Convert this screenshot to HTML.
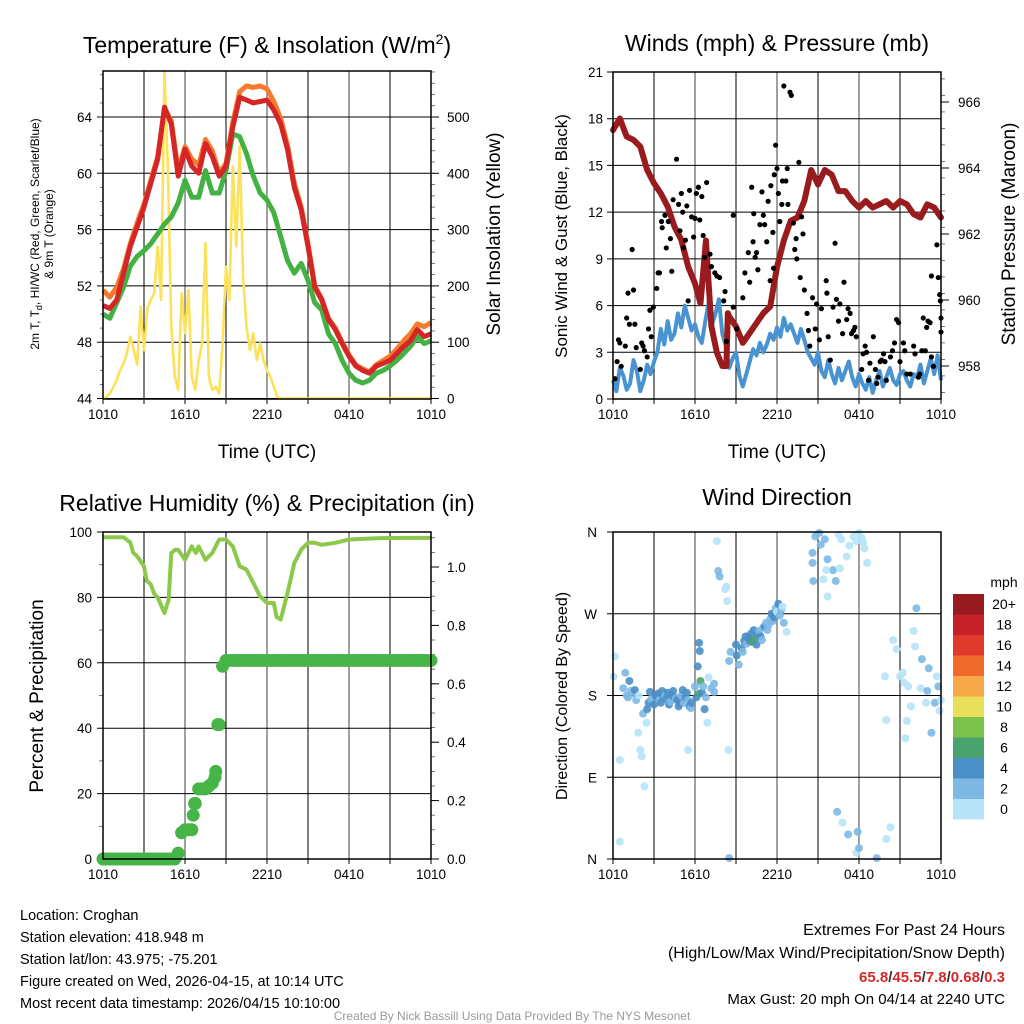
<!DOCTYPE html>
<html><head><meta charset="utf-8"><style>
html,body{margin:0;padding:0;background:#fff}
svg{display:block;font-family:"Liberation Sans",sans-serif}
</style></head><body>
<svg id="root" width="1024" height="1024" viewBox="0 0 1024 1024" xmlns="http://www.w3.org/2000/svg">
<g><text x="267" y="53" font-size="23" text-anchor="middle">Temperature (F) &amp; Insolation (W/m<tspan dy="-9" font-size="14">2</tspan><tspan dy="9">)</tspan></text></g>
<text x="777" y="51" font-size="23" text-anchor="middle">Winds (mph) &amp; Pressure (mb)</text>
<text x="267" y="511" font-size="23" text-anchor="middle">Relative Humidity (%) &amp; Precipitation (in)</text>
<text x="777" y="505" font-size="23" text-anchor="middle">Wind Direction</text>

<g font-size="12" text-anchor="middle">
<text transform="translate(39,234) rotate(-90)">2m T, T<tspan dy="3" font-size="9">d</tspan><tspan dy="-3">, HI/WC (Red, Green, Scarlet/Blue)</tspan></text>
<text transform="translate(53,234) rotate(-90)">&amp; 9m T (Orange)</text></g>
<text transform="translate(500,234) rotate(-90)" font-size="19" text-anchor="middle">Solar Insolation (Yellow)</text>
<text x="267" y="458" font-size="19" text-anchor="middle">Time (UTC)</text>
<text transform="translate(567,236) rotate(-90)" font-size="17" text-anchor="middle">Sonic Wind &amp; Gust (Blue, Black)</text>
<text transform="translate(1015,234) rotate(-90)" font-size="19" text-anchor="middle">Station Pressure (Maroon)</text>
<text x="777" y="458" font-size="19" text-anchor="middle">Time (UTC)</text>
<text transform="translate(43,696) rotate(-90)" font-size="19" text-anchor="middle">Percent &amp; Precipitation</text>
<text transform="translate(567,696) rotate(-90)" font-size="16" text-anchor="middle">Direction (Colored By Speed)</text>

<g font-size="14.5">
<text x="20" y="920">Location: Croghan</text>
<text x="20" y="942">Station elevation: 418.948 m</text>
<text x="20" y="964">Station lat/lon: 43.975; -75.201</text>
<text x="20" y="986">Figure created on Wed, 2026-04-15, at 10:14 UTC</text>
<text x="20" y="1008">Most recent data timestamp: 2026/04/15 10:10:00</text>
</g>
<g text-anchor="end">
<text x="1005" y="935" font-size="16">Extremes For Past 24 Hours</text>
<text x="1005" y="958" font-size="16">(High/Low/Max Wind/Precipitation/Snow Depth)</text>
<text x="1005" y="982" font-size="15" font-weight="bold" fill="#d42a2a">65.8<tspan fill="#333">/</tspan>45.5<tspan fill="#333">/</tspan>7.8<tspan fill="#333">/</tspan>0.68<tspan fill="#333">/</tspan>0.3</text>
<text x="1005" y="1004" font-size="15">Max Gust: 20 mph On 04/14 at 2240 UTC</text>
</g>
<text x="512" y="1020" font-size="12" fill="#999" text-anchor="middle">Created By Nick Bassill Using Data Provided By The NYS Mesonet</text>
<g id="plots"></g>
</svg>
<script>
// ---- data ----
const timeLabels=["1010","1610","2210","0410","1010"];
const tempTicks=[44,48,52,56,60,64];
const solarTicks=[0,100,200,300,400,500];
const windTicks=[0,3,6,9,12,15,18,21];
const pressTicks=[958,960,962,964,966];
const rhTicks=[0,20,40,60,80,100];
const precipTicks=["0.0","0.2","0.4","0.6","0.8","1.0"];
const dirLabels=["N","E","S","W","N"];
const speedBins=["0","2","4","6","8","10","12","14","16","18","20+"];
const speedColors=["#b6e3f7","#7db9e4","#4a8fc6","#4aa36e","#7bc24a","#e8e05a","#f6a848","#f06a2c","#e03a2c","#c62028","#961a1e"];
// temps every 0.5h
const tempRed=[50.6,50.4,51,52.9,54.8,56.2,57.6,59.3,61,64.7,63.5,59.8,61.7,60.5,60,62.1,61.2,59.8,60.5,63.3,65.4,65.2,65,65.1,65.2,64.5,63.5,61.7,59,57.4,54.8,51.9,51,49.6,48.9,47.9,47,46.3,46,45.8,46.3,46.5,46.7,47.2,47.7,48.1,48.9,48.4,48.6];
const tempOrange=[51.7,51.2,51.9,53.2,55,56.5,57.8,59.5,61.2,64.6,63.7,60.2,61.9,61,60.6,62.4,61.6,60,60.7,63.6,65.8,66.2,66.1,66.2,66,65.1,63.9,62,59.3,57.6,55,52,51.1,49.7,49,48,47.1,46.4,46.1,45.9,46.4,46.7,47,47.5,48.1,48.6,49.3,49.1,49.4];
const dewGreen=[50,49.7,50.8,51.9,53.4,54.1,54.5,55,55.7,56.4,56.9,57.9,59.5,58.3,58.3,60.2,58.6,58.6,60.2,62.8,62.6,61.4,59.8,58.6,58.1,57.2,55.5,53.8,52.9,53.6,52.4,50.8,50.3,48.6,47.9,46.7,45.8,45.3,45.1,45.3,45.8,46,46.3,46.7,47.2,47.7,48.4,47.9,48.1];
// solar every 0.25h
const solar=[0,3,9,20,33,50,62,80,110,86,60,163,86,160,175,187,270,175,587,406,128,39,15,187,116,193,39,15,68,98,276,39,15,21,9,98,234,175,412,270,448,217,128,86,116,68,98,68,50,39,21,3,0,0,0,0,0,0,0,0,0,0,0,0,0,0,0,0,0,0,0,0,0,0,0,0,0,0,0,0,0,0,0,0,0,0,0,0,0,0,0,0,0,0,0,0,0];
// sonic wind every 0.25h
const sonicWind=[1.2,0.5,2.0,1.5,0.6,1.0,2.5,1.8,0.5,1.2,2.2,1.6,2.4,3.0,4.5,3.5,5.0,3.8,4.2,5.5,4.6,6.0,5.2,4.4,4.8,4.0,3.6,5.0,6.2,4.8,5.5,6.4,4.2,3.4,2.0,2.6,3.0,1.5,0.8,1.6,2.4,3.2,2.8,3.6,3.0,3.5,4.2,3.8,4.6,4.0,5.2,4.4,4.8,4.2,3.6,4.5,3.8,3.0,2.6,2.2,3.0,1.8,1.4,2.5,1.6,1.0,2.0,1.2,1.8,2.4,1.4,0.8,1.6,1.0,0.6,1.4,0.4,1.2,1.8,0.8,1.4,2.0,1.2,0.9,1.6,1.8,1.2,0.8,1.6,1.4,2.2,1.0,1.8,2.6,1.6,2.8,1.2];
const gustHours=[0.15,0.3,0.4,0.5,0.6,0.9,1.0,1.1,1.4,1.2,1.5,1.6,1.7,2.0,2.1,2.2,2.3,2.5,2.6,2.7,2.8,2.95,3.2,3.3,3.4,3.55,3.6,3.8,3.9,4.05,4.2,4.3,4.4,4.65,4.8,4.9,5.0,5.1,5.15,5.3,5.4,5.5,5.6,5.75,5.9,6.0,6.1,6.25,6.35,6.5,6.6,6.7,6.85,7.1,7.2,7.45,7.6,7.8,8.1,8.2,8.3,8.8,8.8,9.05,9.5,9.65,9.9,10,10.15,10.25,10.3,10.4,10.5,10.6,10.75,10.9,11,11.1,11.25,11.35,11.5,11.55,11.7,11.75,11.8,11.9,12,12.1,12.2,12.35,12.4,12.5,12.65,12.75,12.8,12.95,13.05,13.2,13.3,13.4,13.45,13.6,13.7,13.8,13.9,14,14.2,14.3,14.4,14.6,14.8,14.9,15.1,15.25,15.6,15.65,15.75,15.9,16.1,16.25,16.35,16.5,16.6,16.8,16.9,17.1,17.2,17.35,17.45,17.6,17.7,17.8,18.2,18.3,18.45,18.55,18.7,18.8,19.05,19.2,19.3,19.4,19.55,19.65,19.8,19.9,20,20.3,20.45,20.6,20.75,20.9,21,21.25,21.35,21.5,21.75,22,22.1,22.35,22.45,22.6,22.7,22.85,22.95,23.05,23.2,23.3,23.45,23.7,23.8,23.9,23.95,24,24,23.3];
const gustValues=[1.3,2.4,3.8,3.6,2.1,3.4,5.2,6.8,9.6,4.8,7.0,4.8,3.3,1.9,3.6,3.4,3.1,2.7,4.5,5.7,4.0,5.9,7.1,8.1,8.1,11.4,11,11.8,9.7,11.4,10.3,8.2,12.8,15.4,12.5,10.8,13.2,12,9.7,10.2,12.4,6.3,13.4,11.7,10.4,11.6,13.2,13.6,11.5,13,10.5,9.1,13.9,9.3,8.5,8.1,7.9,7.8,6.3,6.9,3.7,5.9,11.8,4.5,6.5,8.1,9.4,7.5,13.6,10.1,11.9,9.1,9.4,8.3,11.2,13.3,11.8,11.2,10.1,12.7,7.6,13.7,10.7,8.4,14.4,16.3,14.8,13.2,11.4,12.5,14,20.1,14,14.8,12.5,19.7,19.5,11.3,9.6,10.3,9,15.2,7.8,11.7,10.6,7,5.5,4.4,3.4,6.5,4.5,6.1,3.8,5.8,7.6,6.8,4,2.5,5.9,10,6.4,5,6.1,4.2,7.5,5.1,5.8,5.5,4.2,4.4,4.6,4,1.9,2.9,3.4,3.0,1.2,2.3,4,1.9,1,1.4,2.4,2.5,2.9,2.4,1.2,2.7,3.1,3.6,5.1,4.9,2.4,3.6,3.1,1.6,1.6,3.4,2.9,1.4,1.6,3.1,5.2,3.1,4.6,5,4.9,2.7,2.1,9.9,7.8,6.7,6.3,5.2,4.3,7.9];
const pressHours=[0,0.5,1,1.5,2,2.5,3,3.5,4,4.5,5,5.5,6,6.4,6.8,7.2,7.6,8,8.3,8.4,8.5,9,9.5,10,10.5,11,11.5,12,12.5,13,13.5,14,14.5,15,15.5,16,16.5,17,17.5,18,18.5,19,19.5,20,20.5,21,21.5,22,22.5,23,23.5,24];
const pressure=[965.15,965.5,964.95,964.85,964.65,963.94,963.54,963.23,962.83,962.22,961.82,961.01,960.5,959.9,961.8,959.2,958.4,958.0,958.0,959.6,959.5,959.2,958.7,959.0,959.3,959.6,959.8,961.0,961.8,962.4,962.5,963.0,963.94,963.5,963.94,963.8,963.3,963.3,963.0,962.8,963.0,962.8,962.9,963.0,962.8,963.0,962.9,962.6,962.5,962.9,962.8,962.5];
const rhHours=[0,1,1.5,2,2.2,2.5,3,3.2,3.5,3.75,4,4.5,4.8,5,5.3,5.5,6,6.5,6.8,7,7.5,8,8.5,9,9.5,10,10.5,11,11.5,12,12.5,12.7,13,13.5,14,14.5,15,15.5,16,17,17.5,18,19,20,22,24];
const rhValues=[98.4,98.4,98.4,96.8,93.7,92.6,89.5,85,84,81,80,75.2,79.3,93.6,94.6,94.6,91.5,95.6,93.6,95.6,91.5,93.6,97.7,97.7,95.6,89.5,88.5,84.4,80.3,78.3,78.3,74,73.2,81.3,90.5,94.6,96.7,96.7,96.1,96.7,97.2,97.7,97.9,98.1,98.2,98.2];
// precip every 0.25h
const precip=[0,0,0,0,0,0,0,0,0,0,0,0,0,0,0,0,0,0,0,0,0,0,0.02,0.09,0.1,0.1,0.1,0.19,0.24,0.24,0.24,0.25,0.26,0.3,0.46,0.66,0.68,0.68,0.68,0.68,0.68,0.68,0.68,0.68,0.68,0.68,0.68,0.68,0.68,0.68,0.68,0.68,0.68,0.68,0.68,0.68,0.68,0.68,0.68,0.68,0.68,0.68,0.68,0.68,0.68,0.68,0.68,0.68,0.68,0.68,0.68,0.68,0.68,0.68,0.68,0.68,0.68,0.68,0.68,0.68,0.68,0.68,0.68,0.68,0.68,0.68,0.68,0.68,0.68,0.68,0.68,0.68,0.68,0.68,0.68,0.68,0.68];
const precipExtraHours=[6.6,6.7,8.2,8.4];
const precipExtra=[0.15,0.19,0.28,0.46];
// wind direction: hour, degrees, speed
const dirHours=[0.15,0.05,0.5,0.5,0.75,0.9,1.0,1.1,1.2,1.3,1.5,1.6,1.7,1.9,1.85,2.0,2.1,2.45,2.3,2.2,2.5,2.6,2.7,2.8,3.0,3.1,3.2,3.3,3.4,3.5,3.6,3.7,3.8,3.9,4.0,4.1,4.2,4.3,4.4,4.5,4.6,4.7,4.8,4.9,5.0,5.1,5.2,5.3,5.4,5.5,5.6,5.7,5.75,6.0,6.1,6.2,6.3,6.35,6.3,6.4,6.5,6.6,6.7,6.8,6.9,7.0,7.2,7.4,7.4,7.6,7.7,7.8,8.3,8.35,8.45,8.5,8.2,5.5,8.6,8.5,9.0,9.05,9.2,9.4,9.5,9.6,9.7,9.8,9.9,10.0,10.1,10.2,10.3,10.4,10.5,10.6,10.7,10.8,10.9,11.0,11.1,11.2,11.3,11.4,11.5,11.6,11.7,11.8,11.9,12.0,12.1,12.2,12.3,12.4,12.5,12.7,14.6,14.6,14.65,14.8,15.1,15.2,15.5,15.7,16.1,16.3,16.5,16.7,16.6,17.1,17.3,17.6,17.8,18.0,18.2,18.3,18.4,18.6,15.6,15.4,15.7,16.8,17.8,18.0,17.2,17.9,16.4,19.3,20.3,20.0,20.5,20.75,21.0,21.3,21.2,21.6,21.5,22.2,22.0,22.1,22.5,22.9,23.3,23.1,23.7,23.8,23.55,23.9,20.0,19.9,21.4,21.8,22.6,23.0,24.0];
const dirDegrees=[223,201,19,109,188,205,180,178,196,185,182,186,175,180,139,120,113,150,80,160,165,172,184,176,170,180,178,182,175,172,185,179,180,176,183,170,173,180,185,178,177,175,168,172,180,186,172,178,183,175,168,166,172,190,178,212,238,229,182,196,183,190,165,178,150,200,188,184,193,350,317,311,300,284,120,1,297,120,228,218,236,224,214,232,228,240,245,237,244,240,248,239,252,242,236,247,251,245,241,255,256,260,252,258,264,270,262,266,276,272,281,268,274,278,260,250,337,326,306,355,359,346,352,330,318,306,357,352,320,333,345,355,350,359,354,349,342,326,318,308,289,40,7,12,27,30,52,1,35,22,241,231,201,194,205,190,152,276,251,234,188,172,139,210,201,190,172,163,153,201,133,168,220,185,175,176,160];
const dirSpeeds=[0.5,0.5,0.2,1,3,3,2.5,3.5,4,3,3,4.5,2.5,1.5,1,1,0.8,1,0.5,3.5,4.5,4.5,4.5,3.5,4.5,4.5,5,4.5,3.5,4.5,5,4.5,3,4.5,5,4.5,3.5,4.5,5,4.5,3.5,4.5,5,4.5,3,4.5,3.5,4,5,3,4.5,3.5,4,3,4.5,5,4.5,4.5,7.5,6.5,5.5,3,4,3,1,1,3,3,2,0.5,3,3,0.5,0.8,0.5,3,0.5,0.5,3.5,2.5,4.5,4,3,4.5,3.5,4.5,4.5,3,4.5,4,4.5,6.5,4,7,4.5,4.5,3.5,4.5,3,3,4,2.5,3.5,2.5,3,4,3,4,3,1.5,4,2.5,2,1.5,2.5,0.8,3,2,3,3,2,3,2.5,3,2,2.5,0.5,0.5,1,1,0.5,0.5,1,0.8,0.5,1,0.5,0.5,0.5,1,0.5,0.5,0.5,3.5,3,2.5,2,3,0.5,0.3,0.5,0.5,0.5,0.5,1,1,0.5,3,0.5,0.5,0.5,0.5,3,3,0.5,2,2.5,0.5,0.5,0.5,0.5,1,2.5,3,1];

// ---- drawing ----
const NS="http://www.w3.org/2000/svg";
const plots=document.getElementById('plots');
function el(tag,attrs,parent){const e=document.createElementNS(NS,tag);for(const k in attrs)e.setAttribute(k,attrs[k]);(parent||plots).appendChild(e);return e;}
function lin(d0,d1,r0,r1){return v=>r0+(v-d0)*(r1-r0)/(d1-d0);}
function pathFrom(xs,ys){return xs.map((x,i)=>(i?'L':'M')+x.toFixed(1)+','+ys[i].toFixed(1)).join('');}
function uniformHours(n){const a=[];for(let i=0;i<n;i++)a.push(i*24/(n-1));return a;}
function colorFor(s){let i=Math.floor(s/2);if(i>10)i=10;if(i<0)i=0;return speedColors[i];}

function frame(name,x0,x1,y0,y1,hLines,yL){
  const g=el('g',{});
  
  
  const xs=lin(0,24,x0,x1);
  for(let h=3;h<24;h+=3){el('line',{x1:xs(h),x2:xs(h),y1:y0,y2:y1,stroke:h%6===0?'#777':'#000','stroke-width':h%6===0?1.4:1},g);}
  hLines.forEach(v=>{const y=yL(v);el('line',{x1:x0-6,x2:x1,y1:y,y2:y,stroke:'#000','stroke-width':1},g);});
  for(let h=0;h<=24;h+=3)el('line',{x1:xs(h),x2:xs(h),y1:y1,y2:y1+5,stroke:'#000'},g);
  const lab=el('g',{'font-size':13.5,'text-anchor':'middle'});
  
  
  timeLabels.forEach((t,i)=>{const tx=el('text',{x:xs(i*6),y:y1+20},lab);tx.textContent=t;});
  return xs;
}
function border(x0,x1,y0,y1){el('rect',{x:x0,y:y0,width:x1-x0,height:y1-y0,fill:'none',stroke:'#000','stroke-width':1.5});}
function yLabels(name,vals,texts,yf,x,anchor){
  const g=el('g',{'font-size':13.5,'text-anchor':anchor});
  
  
  vals.forEach((v,i)=>{const t=el('text',{x:x,y:yf(v)+5},g);t.textContent=texts[i];});
}
function minorTicks(x,from,to,step,yf,len){for(let v=from;v<=to+1e-9;v+=step)el('line',{x1:x,x2:x+len,y1:yf(v),y2:yf(v),stroke:'#555','stroke-width':0.8});}

// Panel 1
(function(){
  const x0=103,x1=431,y0=71,y1=399;
  const yT=lin(44,64,398.5,117), yS=lin(0,500,398.5,117);
  const xs=frame('temperature',x0,x1,y0,y1,tempTicks,yT);
  minorTicks(x0,45,67,1,yT,-3);minorTicks(x1,0,580,20,yS,4);
  solarTicks.forEach(v=>el('line',{x1:x1,x2:x1+8,y1:yS(v),y2:yS(v),stroke:'#000'}));
  const hs=uniformHours(solar.length);
  const ys=el('path',{d:pathFrom(hs.map(xs),solar.map(v=>Math.max(yS(v),y0))),fill:'none',stroke:'#fce25a','stroke-width':2.6,'stroke-linejoin':'round'});
  
  
  const ht=uniformHours(tempRed.length);
  const o=el('path',{d:pathFrom(ht.map(xs),tempOrange.map(yT)),fill:'none',stroke:'#f47a2c','stroke-width':5,'stroke-linejoin':'round'});
  
  
  const g=el('path',{d:pathFrom(ht.map(xs),dewGreen.map(yT)),fill:'none',stroke:'#44b144','stroke-width':5,'stroke-linejoin':'round'});
  
  
  const r=el('path',{d:pathFrom(ht.map(xs),tempRed.map(yT)),fill:'none',stroke:'#d42626','stroke-width':5,'stroke-linejoin':'round'});
  
  
  border(x0,x1,y0,y1);
  yLabels('temp-y-tick-labels',tempTicks,tempTicks.map(String),yT,92,'end');
  yLabels('solar-y-tick-labels',solarTicks,solarTicks.map(String),yS,447,'start');
})();

// Panel 2
(function(){
  const x0=613,x1=941,y0=72,y1=399;
  const yW=lin(0,21,399,72), yP=lin(958,966,366,102);
  const xs=frame('winds',x0,x1,y0,y1,windTicks,yW);
  minorTicks(x1,957.2,967,0.5,yP,4);
  pressTicks.forEach(v=>el('line',{x1:x1,x2:x1+8,y1:yP(v),y2:yP(v),stroke:'#000'}));
  const hs=uniformHours(sonicWind.length);
  const b=el('path',{d:pathFrom(hs.map(xs),sonicWind.map(yW)),fill:'none',stroke:'#4a93d2','stroke-width':4,'stroke-linejoin':'round'});
  
  
  const p=el('path',{d:pathFrom(pressHours.map(xs),pressure.map(yP)),fill:'none',stroke:'#991b1e','stroke-width':6,'stroke-linejoin':'round','stroke-linecap':'round'});
  
  
  const gg=el('g',{});
  
  
  gustHours.forEach((h,i)=>{el('circle',{cx:xs(h),cy:yW(gustValues[i]),r:2.6,fill:'#000'},gg);});
  border(x0,x1,y0,y1);
  yLabels('wind-y-tick-labels',windTicks,windTicks.map(String),yW,603,'end');
  yLabels('pressure-y-tick-labels',pressTicks,pressTicks.map(String),yP,958,'start');
})();

// Panel 3
(function(){
  const x0=103,x1=431,y0=532,y1=859;
  const yR=lin(0,100,859,532), yQ=lin(0,1,859,567);
  const xs=frame('humidity',x0,x1,y0,y1,rhTicks,yR);
  minorTicks(x0,10,90,20,yR,-4);minorTicks(x1,0,1.1,0.05,yQ,4);
  [0,0.2,0.4,0.6,0.8,1.0].forEach(v=>el('line',{x1:x1,x2:x1+8,y1:yQ(v),y2:yQ(v),stroke:'#000'}));
  const rh=el('path',{d:pathFrom(rhHours.map(xs),rhValues.map(yR)),fill:'none',stroke:'#8cc84b','stroke-width':4,'stroke-linejoin':'round'});
  
  
  const gp=el('g',{});
  
  
  const hs=uniformHours(precip.length);
  precip.forEach((v,i)=>el('circle',{cx:xs(hs[i]),cy:yQ(v),r:6.5,fill:'#46b446'},gp));
  precipExtra.forEach((v,i)=>el('circle',{cx:xs(precipExtraHours[i]),cy:yQ(v),r:6.5,fill:'#46b446'},gp));
  border(x0,x1,y0,y1);
  yLabels('rh-y-tick-labels',rhTicks,rhTicks.map(String),yR,92,'end');
  yLabels('precip-y-tick-labels',[0,0.2,0.4,0.6,0.8,1.0],precipTicks,yQ,447,'start');
})();

// Panel 4
(function(){
  const x0=613,x1=941,y0=532,y1=859;
  const yD=lin(0,360,859,532);
  const xs=frame('wind-direction',x0,x1,y0,y1,[0,90,180,270,360],yD);
  const gd=el('g',{});
  
  
  dirHours.forEach((h,i)=>{el('circle',{cx:xs(h),cy:yD(dirDegrees[i]),r:4,fill:colorFor(dirSpeeds[i]),'fill-opacity':0.9},gd);});
  border(x0,x1,y0,y1);
  yLabels('direction-y-tick-labels',[0,90,180,270,360],dirLabels,yD,597,'end');
  // legend
  const lg=el('g',{});
  
  
  const t=el('text',{x:1004,y:587,'font-size':14,'text-anchor':'middle'},lg);t.textContent='mph';
  const bh=20.5, top=594;
  speedBins.forEach((s,i)=>{
    const k=10-i;
    el('rect',{x:953,y:top+i*bh,width:31,height:bh,fill:speedColors[k]},lg);
    const tt=el('text',{x:1004,y:top+i*bh+15,'font-size':14,'text-anchor':'middle'},lg);tt.textContent=speedBins[k];
  });
})();
</script>
</body></html>
